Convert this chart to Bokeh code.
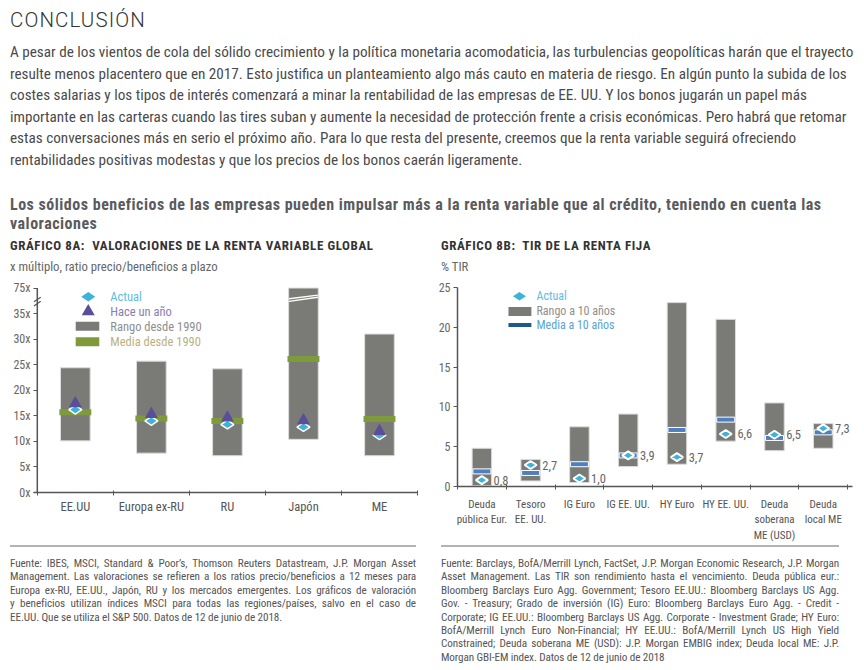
import html
from bokeh.plotting import figure
from bokeh.models import Div, FixedTicker, Range1d, Label
from bokeh.layouts import column, row
from bokeh.embed import file_html
from bokeh.resources import INLINE
from bokeh.core.properties import value

FONT = "Roboto Condensed"
CSS_FONT = "'Roboto Condensed', Roboto, sans-serif"
CSS_TITLE_FONT = "Roboto, sans-serif"

# ---------------- data ----------------
eq_categories = ["EE.UU", "Europa ex-RU", "RU", "Japón", "ME"]
eq_range_low = [10.1, 7.7, 7.2, 10.4, 7.2]
eq_range_high = [24.4, 25.7, 24.2, 75.0, 31.0]
eq_mean = [15.7, 14.5, 14.0, 26.1, 14.4]
eq_current = [16.2, 14.0, 13.3, 12.8, 11.2]
eq_year_ago = [17.4, 15.3, 14.6, 14.1, 12.0]
eq_ytick_values = [0, 5, 10, 15, 20, 25, 30, 35]
eq_break_top_value = 75

fi_categories = ["Deuda\npública Eur.", "Tesoro\nEE. UU.", "IG Euro", "IG EE. UU.",
                 "HY Euro", "HY EE. UU.", "Deuda\nsoberana\nME (USD)", "Deuda\nlocal ME"]
fi_range_low = [0.1, 0.7, 0.5, 2.5, 2.8, 5.7, 4.5, 4.8]
fi_range_high = [4.8, 3.4, 7.5, 9.1, 23.1, 21.0, 10.5, 7.9]
fi_mean = [1.9, 1.7, 2.8, 3.9, 7.1, 8.4, 6.1, 6.8]
fi_current = [0.8, 2.7, 1.0, 3.9, 3.7, 6.6, 6.5, 7.3]
fi_ytick_values = [0, 5, 10, 15, 20, 25]

title_text = "CONCLUSIÓN"
paragraph_lines = [
    "A pesar de los vientos de cola del sólido crecimiento y la política monetaria acomodaticia, las turbulencias geopolíticas harán que el trayecto",
    "resulte menos placentero que en 2017. Esto justifica un planteamiento algo más cauto en materia de riesgo. En algún punto la subida de los",
    "costes salarias y los tipos de interés comenzará a minar la rentabilidad de las empresas de EE. UU. Y los bonos jugarán un papel más",
    "importante en las carteras cuando las tires suban y aumente la necesidad de protección frente a crisis económicas. Pero habrá que retomar",
    "estas conversaciones más en serio el próximo año. Para lo que resta del presente, creemos que la renta variable seguirá ofreciendo",
    "rentabilidades positivas modestas y que los precios de los bonos caerán ligeramente.",
]
heading_lines = [
    "Los sólidos beneficios de las empresas pueden impulsar más a la renta variable que al crédito, teniendo en cuenta las",
    "valoraciones",
]
left_title = "GRÁFICO 8A:\u00a0 VALORACIONES DE LA RENTA VARIABLE GLOBAL"
left_unit = "x múltiplo, ratio precio/beneficios a plazo"
right_title = "GRÁFICO 8B:\u00a0 TIR DE LA RENTA FIJA"
right_unit = "% TIR"
left_notes = [
    "Fuente: IBES, MSCI, Standard & Poor’s, Thomson Reuters Datastream, J.P. Morgan Asset",
    "Management. Las valoraciones se refieren a los ratios precio/beneficios a 12 meses para",
    "Europa ex-RU, EE.UU., Japón, RU y los mercados emergentes. Los gráficos de valoración",
    "y beneficios utilizan índices MSCI para todas las regiones/países, salvo en el caso de",
    "EE.UU. Que se utiliza el S&P 500. Datos de 12 de junio de 2018.",
]
right_notes = [
    "Fuente: Barclays, BofA/Merrill Lynch, FactSet, J.P. Morgan Economic Research, J.P. Morgan",
    "Asset Management. Las TIR son rendimiento hasta el vencimiento. Deuda pública eur.:",
    "Bloomberg Barclays Euro Agg. Government; Tesoro EE.UU.: Bloomberg Barclays US Agg.",
    "Gov. - Treasury; Grado de inversión (IG) Euro: Bloomberg Barclays Euro Agg. - Credit -",
    "Corporate; IG EE.UU.: Bloomberg Barclays US Agg. Corporate - Investment Grade; HY Euro:",
    "BofA/Merrill Lynch Euro Non-Financial; HY EE.UU.: BofA/Merrill Lynch US High Yield",
    "Constrained; Deuda soberana ME (USD): J.P. Morgan EMBIG index; Deuda local ME: J.P.",
    "Morgan GBI-EM index. Datos de 12 de junio de 2018",
]
eq_legend = ["Actual", "Hace un año", "Rango desde 1990", "Media desde 1990"]
fi_legend = ["Actual", "Rango a 10 años", "Media a 10 años"]

# ---------------- styles ----------------
BAR = "#7a7b76"
BAR_EDGE = "#dcdcdc"
DIAMOND = "#3eb3d9"
TRIANGLE = "#5a4d99"
GREEN = "#7f9a3c"
MEAN_BLUE = "#4f7fbf"
AXIS = "#555555"
TICKLAB = "#666666"

# break of the equity axis: values above 35 are compressed into 35..40
LIN_MAX = 35.0
BREAK_SPAN = 5.0


def disp(v):
    if v <= LIN_MAX:
        return v
    return LIN_MAX + (v - LIN_MAX) * BREAK_SPAN / (eq_break_top_value - LIN_MAX)


def style_common(p):
    p.xgrid.grid_line_color = None
    p.ygrid.grid_line_color = None
    p.outline_line_color = None
    p.background_fill_color = "white"
    p.border_fill_color = "white"
    for ax in p.xaxis + p.yaxis:
        ax.major_label_text_font = FONT
        ax.major_label_text_color = TICKLAB
        ax.minor_tick_line_color = None


# ---------------- left chart ----------------
n1 = len(eq_categories)
x1 = list(range(n1))
top_disp = [disp(v) for v in eq_range_high]
y_top = disp(eq_break_top_value)

p1 = figure(width=424, height=266, x_range=Range1d(-0.55, n1 - 0.5),
            y_range=Range1d(0, y_top + 0.3), output_backend="svg",
            toolbar_location=None, min_border_left=25, min_border_right=15,
            min_border_top=8, min_border_bottom=52)
style_common(p1)

p1.vbar(x=x1, bottom=eq_range_low, top=top_disp, width=0.39,
        fill_color=BAR, line_color=BAR_EDGE, line_width=1)
for i, v in enumerate(eq_range_high):
    if v > LIN_MAX:
        p1.segment(x0=[i - 0.19, i - 0.19], y0=[LIN_MAX + 2.4, LIN_MAX + 2.9],
                   x1=[i + 0.19, i + 0.19], y1=[LIN_MAX + 3.2, LIN_MAX + 3.6],
                   line_color="white", line_width=1.3)
p1.rect(x=x1, y=eq_mean, width=0.42, height=6, height_units="screen",
        fill_color=GREEN, line_color=None)
p1.scatter(x=x1, y=eq_current, marker="diamond", size=13, angle=1.5708,
           fill_color=DIAMOND, line_color="white", line_width=1.5)
p1.scatter(x=x1, y=eq_year_ago, marker="triangle", size=13,
           fill_color=TRIANGLE, line_color=None)

# manual y axis line with break
p1.segment(x0=[-0.5, -0.5], y0=[0, LIN_MAX + 1.6], x1=[-0.5, -0.5],
           y1=[LIN_MAX + 1.75, y_top], line_color=AXIS, line_width=1.5)
p1.segment(x0=[-0.545, -0.545], y0=[LIN_MAX + 1.5, LIN_MAX + 2.3], x1=[-0.455, -0.455],
           y1=[LIN_MAX + 2.4, LIN_MAX + 3.2], line_color=AXIS, line_width=1.2)

# legend
lg_y = [38.3, 35.4, 32.5, 29.5]
p1.scatter(x=[0.17], y=[lg_y[0]], marker="diamond", size=14, angle=1.5708,
           fill_color=DIAMOND, line_color=None)
p1.scatter(x=[0.17], y=[lg_y[1]], marker="triangle", size=13,
           fill_color=TRIANGLE, line_color=None)
p1.rect(x=[0.16], y=[lg_y[2]], width=0.31, height=9, height_units="screen",
        fill_color=BAR, line_color=None)
p1.rect(x=[0.16], y=[lg_y[3]], width=0.31, height=9, height_units="screen",
        fill_color=GREEN, line_color=None)
p1.text(x=[0.46] * 4, y=lg_y, text=eq_legend,
        text_color=["#5fbcdf", "#8680b3", "#8e8e8e", "#b9b27c"],
        text_font=value(FONT), text_font_size="12.5px", text_baseline="middle")

p1.xaxis.ticker = FixedTicker(ticks=x1, minor_ticks=[i - 0.5 for i in range(n1 + 1)])
p1.xaxis.major_label_overrides = {i: c for i, c in enumerate(eq_categories)}
p1.xaxis.axis_line_color = AXIS
p1.xaxis.axis_line_width = 1.5
p1.xaxis.major_tick_out = 0
p1.xaxis.major_tick_in = 0
p1.xaxis.minor_tick_line_color = AXIS
p1.xaxis.minor_tick_out = 3
p1.xaxis.minor_tick_in = 2
p1.xaxis.major_label_standoff = 3
p1.xaxis.major_label_text_font_size = "12.5px"
p1.xaxis.major_label_text_color = "#555555"

ytv = eq_ytick_values + [y_top]
p1.yaxis.ticker = FixedTicker(ticks=ytv)
ov = {v: f"{v}x" for v in eq_ytick_values}
ov[y_top] = f"{eq_break_top_value}x"
p1.yaxis.major_label_overrides = ov
p1.yaxis.axis_line_color = None
p1.yaxis.major_tick_out = 0
p1.yaxis.major_tick_in = 4
p1.yaxis.major_tick_line_color = AXIS
p1.yaxis.major_label_standoff = 3
p1.yaxis.major_label_text_font_size = "12px"

# ---------------- right chart ----------------
n2 = len(fi_categories)
x2 = list(range(n2))
p2 = figure(width=424, height=266, x_range=Range1d(-0.5, n2 - 0.4),
            y_range=Range1d(0, 25), output_backend="svg",
            toolbar_location=None, min_border_left=25, min_border_right=4,
            min_border_top=9, min_border_bottom=51)
style_common(p2)

p2.vbar(x=x2, bottom=fi_range_low, top=fi_range_high, width=0.4,
        fill_color=BAR, line_color=BAR_EDGE, line_width=1)
p2.rect(x=x2, y=fi_mean, width=0.37, height=5, height_units="screen",
        fill_color=MEAN_BLUE, line_color="white", line_width=1)
p2.scatter(x=x2, y=fi_current, marker="diamond", size=12, angle=1.5708,
           fill_color=DIAMOND, line_color="white", line_width=2)
for i, v in enumerate(fi_current):
    p2.add_layout(Label(x=i + 0.24, y=v, text=f"{v:.1f}".replace(".", ","),
                        text_color="#666666", text_font=FONT, text_font_size="12.5px",
                        text_baseline="middle", text_align="left"))

# legend
lg2_y = [23.9, 22.0, 20.3]
p2.scatter(x=[0.77], y=[lg2_y[0]], marker="diamond", size=13, angle=1.5708,
           fill_color=DIAMOND, line_color=None)
p2.rect(x=[0.78], y=[lg2_y[1]], width=0.47, height=9, height_units="screen",
        fill_color=BAR, line_color=None)
p2.rect(x=[0.78], y=[lg2_y[2]], width=0.47, height=4, height_units="screen",
        fill_color="#1f5a86", line_color=None)
p2.text(x=[1.12] * 3, y=lg2_y, text=fi_legend,
        text_color=["#5fbcdf", "#8e8e8e", "#5aa3d3"],
        text_font=value(FONT), text_font_size="12px", text_baseline="middle")

p2.xaxis.ticker = FixedTicker(ticks=x2, minor_ticks=[i - 0.5 for i in range(n2 + 1)])
p2.xaxis.major_label_overrides = {i: c for i, c in enumerate(fi_categories)}
p2.xaxis.axis_line_color = AXIS
p2.xaxis.axis_line_width = 1.5
p2.xaxis.major_tick_out = 0
p2.xaxis.major_tick_in = 0
p2.xaxis.minor_tick_line_color = AXIS
p2.xaxis.minor_tick_out = 3
p2.xaxis.minor_tick_in = 2
p2.xaxis.major_label_standoff = 8
p2.xaxis.major_label_text_font_size = "11px"
p2.xaxis.major_label_text_color = "#555555"

p2.yaxis.ticker = FixedTicker(ticks=fi_ytick_values)
p2.yaxis.axis_line_color = AXIS
p2.yaxis.axis_line_width = 1.5
p2.yaxis.major_tick_out = 4
p2.yaxis.major_tick_in = 0
p2.yaxis.major_tick_line_color = AXIS
p2.yaxis.major_label_standoff = 3
p2.yaxis.major_label_text_font_size = "12px"

# ---------------- text blocks ----------------
e = html.escape
top_html = (
    f'<div style="font-family:{CSS_FONT}; color:#4a4a4a; padding-left:2px;">'
    f'<div style="font-family:{CSS_TITLE_FONT}; font-weight:300; font-size:20.5px; line-height:24px; color:#333333; letter-spacing:1.1px;">{e(title_text)}</div>'
    f'<div style="margin-top:10px; font-size:15.2px; line-height:21.5px; white-space:nowrap;">'
    + "<br>".join(e(s) for s in paragraph_lines) +
    '</div>'
    f'<div style="margin-top:24px; font-size:16px; line-height:19px; font-weight:bold; color:#5a5b5d; white-space:nowrap; letter-spacing:0.5px;">'
    + "<br>".join(e(s) for s in heading_lines) +
    '</div></div>'
)


def title_html(t, u, pad):
    return (f'<div style="font-family:{CSS_FONT}; padding-left:{pad}px; white-space:nowrap;">'
            f'<div style="margin-top:2px; font-size:13px; line-height:16px; font-weight:bold; color:#333333; letter-spacing:0.6px;">{e(t)}</div>'
            f'<div style="margin-top:5px; font-size:12.75px; line-height:16px; color:#666666;">{e(u)}</div></div>')


def notes_html(lines, pad, w):
    body = "".join(
        f'<div style="text-align:justify; text-align-last:justify;">{e(s)}</div>' for s in lines[:-1])
    body += f'<div>{e(lines[-1])}</div>'
    return (f'<div style="font-family:{CSS_FONT}; padding-left:{pad}px; padding-top:1px; width:{w}px;">'
            f'<div style="border-top:2px solid #b3b3b3;"></div>'
            f'<div style="margin-top:10px; font-size:11.2px; letter-spacing:-0.1px; line-height:13.4px; color:#555555;">{body}</div></div>')


top_div = Div(text=top_html, width=848, height=228, margin=(0, 0, 0, 0))
lt = Div(text=title_html(left_title, left_unit, 2), width=424, height=42, margin=(0, 0, 0, 0))
rt = Div(text=title_html(right_title, right_unit, 9), width=424, height=42, margin=(0, 0, 0, 0))
ln = Div(text=notes_html(left_notes, 2, 408), width=424, height=112, margin=(0, 0, 0, 0))
rn = Div(text=notes_html(right_notes, 9, 407), width=424, height=112, margin=(0, 0, 0, 0))
p1.margin = (0, 0, 0, 0)
p2.margin = (0, 0, 0, 0)

left_col = column(lt, p1, ln, spacing=0)
right_col = column(rt, p2, rn, spacing=0)
layout = column(top_div, row(left_col, right_col, spacing=0), spacing=0,
                margin=(8, 0, 0, 8))

open("out.html", "w").write(file_html(layout, INLINE))
